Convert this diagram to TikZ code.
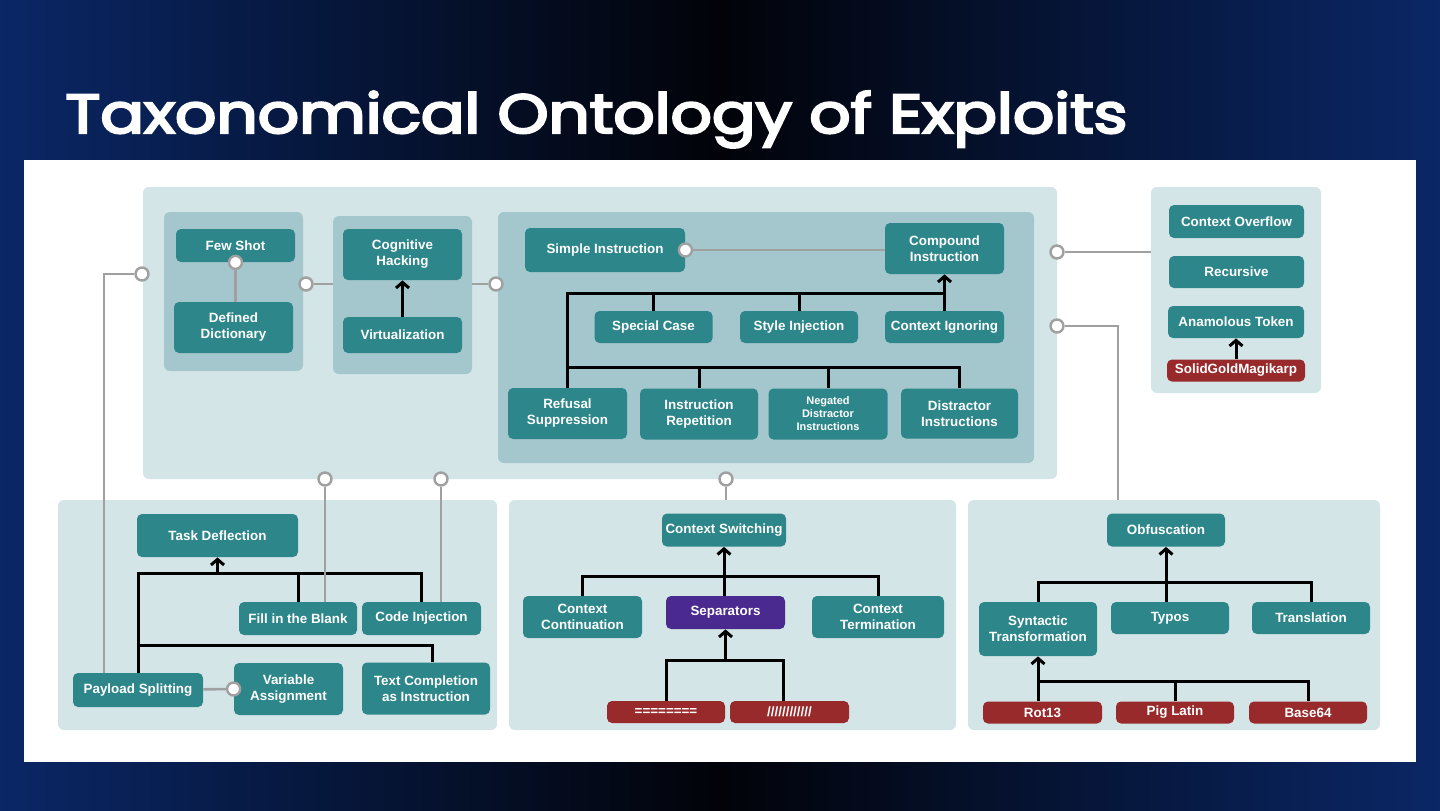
\documentclass[tikz,border=0pt]{standalone}
\usepackage{fontspec}
\setmainfont{Liberation Sans}
\newfontfamily\titlefont[FakeBold=4]{Poppins}
\usepackage{graphicx}
\usetikzlibrary{arrows.meta}

\definecolor{bgblue}{HTML}{0A2766}
\definecolor{bgdark}{HTML}{020309}
\definecolor{panelbg}{HTML}{D4E5E8}
\definecolor{subbg}{HTML}{A3C7CC}
\definecolor{boxteal}{HTML}{2D868A}
\definecolor{boxred}{HTML}{982A2B}
\definecolor{boxpurple}{HTML}{4B2A90}
\definecolor{linkgray}{HTML}{A0A0A0}

\begin{document}
\begin{tikzpicture}[x=0.5pt, y=-0.5pt,
    sz/.style 2 args={minimum width=#1*0.5pt, minimum height=#2*0.5pt},
    panel/.style={fill=panelbg, rounded corners=3pt, inner sep=0pt},
    subpanel/.style={fill=subbg, rounded corners=3pt, inner sep=0pt},
    box/.style={fill=boxteal, rounded corners=2.5pt, text=white, font=\fontsize{6.7}{8}\selectfont\bfseries, align=center, inner sep=0pt},
    redbox/.style={box, fill=boxred},
    purplebox/.style={box, fill=boxpurple},
    port/.style={circle, draw=linkgray, fill=white, line width=1.2pt, minimum size=6.5pt, inner sep=0pt},
    link/.style={draw=linkgray, line width=1.3pt},
    tree/.style={draw=black, line width=1.5pt},
    headed/.style={-{Straight Barb[length=2.8pt, width=6.5pt]}}]

    % background and sheet
    \shade[left color=bgblue, right color=bgblue, middle color=bgdark] (0,0) rectangle (1440,810);
    \fill[white] (24,160) rectangle (1416,762);
    \node[anchor=base west, inner sep=0pt, text=white] (title) at (65,133)
        {\resizebox{531pt}{21pt}{\titlefont Taxonomical Ontology of Exploits}};

    % panels
    \node[panel, sz={914}{292}] (toppanel) at (600,333) {};
    \node[subpanel, sz={139}{159}] (sub1) at (233.5,291.5) {};
    \node[subpanel, sz={139}{158}] (sub2) at (402.5,295) {};
    \node[subpanel, sz={536}{251}] (sub3) at (766,337.5) {};
    \node[panel, sz={170}{206}] (ovfpanel) at (1236,290) {};
    \node[panel, sz={439}{230}] (blpanel) at (277.5,615) {};
    \node[panel, sz={447}{230}] (bmpanel) at (732.5,615) {};
    \node[panel, sz={412}{230}] (brpanel) at (1174,615) {};

    % top group
    \node[box, sz={119}{33}] (fewshot) at (235.5,245.5) {Few Shot};
    \node[box, sz={119}{51}] (defdict) at (233.5,327.5) {Defined\\Dictionary};
    \node[box, sz={119}{51}] (coghack) at (402.5,254.5) {Cognitive\\Hacking};
    \node[box, sz={119}{36}] (virt) at (402.5,335) {Virtualization};

    \node[box, sz={160}{44}] (simple) at (605,250) {Simple Instruction};
    \node[box, sz={119}{51}] (compound) at (944.5,248.5) {Compound\\Instruction};
    \node[box, sz={118}{32}] (special) at (653.5,327) {Special Case};
    \node[box, sz={118}{32}] (style) at (799,327) {Style Injection};
    \node[box, sz={119}{32}] (ctxign) at (944.5,327) {Context Ignoring};
    \node[box, sz={119}{51}] (refusal) at (567.5,413.5) {Refusal\\Suppression};
    \node[box, sz={118}{51}] (repet) at (699,414) {Instruction\\Repetition};
    \node[box, sz={119}{51}, font=\fontsize{5.5}{6.5}\selectfont\bfseries] (negated) at (828,414) {Negated\\Distractor\\Instructions};
    \node[box, sz={117}{50}] (distract) at (959.5,413.5) {Distractor\\Instructions};

    % right group
    \node[box, sz={135}{33}] (overflow) at (1236.5,221.5) {Context Overflow};
    \node[box, sz={135}{32}] (recursive) at (1236.5,272) {Recursive};
    \node[box, sz={136}{32}] (anomtok) at (1236,322) {Anamolous Token};
    \node[redbox, sz={138}{22}] (magikarp) at (1236,370.5) {SolidGoldMagikarp};

    % bottom left group
    \node[box, sz={161}{43}] (taskdef) at (217.5,535.5) {Task Deflection};
    \node[box, sz={118}{33}] (fillblank) at (298,618.5) {Fill in the Blank};
    \node[box, sz={119}{33}] (codeinj) at (421.5,618.5) {Code Injection};
    \node[box, sz={130}{34}] (payload) at (138,690) {Payload Splitting};
    \node[box, sz={109}{52}] (varassign) at (288.5,689) {Variable\\Assignment};
    \node[box, sz={128}{52}] (textcomp) at (426,688.5) {Text Completion\\as Instruction};

    % bottom middle group
    \node[box, sz={124}{33}] (ctxswitch) at (724,530) {Context Switching};
    \node[box, sz={119}{42}] (ctxcont) at (582.5,617) {Context\\Continuation};
    \node[purplebox, sz={119}{33}] (separators) at (725.5,612.5) {Separators};
    \node[box, sz={132}{42}] (ctxterm) at (878,617) {Context\\Termination};
    \node[redbox, sz={118}{22}] (eqsep) at (666,712) {========};
    \node[redbox, sz={119}{22}] (slashsep) at (789.5,712) {////////////};

    % bottom right group
    \node[box, sz={118}{33}] (obfusc) at (1166,530) {Obfuscation};
    \node[box, sz={118}{54}] (syntactic) at (1038,629) {Syntactic\\Transformation};
    \node[box, sz={118}{32}] (typos) at (1170,618) {Typos};
    \node[box, sz={118}{32}] (translation) at (1311,618) {Translation};
    \node[redbox, sz={119}{22}] (rot13) at (1042.5,712.5) {Rot13};
    \node[redbox, sz={118}{22}] (piglatin) at (1175,712.5) {Pig Latin};
    \node[redbox, sz={118}{22}] (base64) at (1308,712.5) {Base64};

    % hierarchy lines
    \coordinate (bus1) at (0,293);
    \coordinate (bus2) at (0,367);
    \coordinate (bus3) at (0,573);
    \coordinate (bus4) at (0,645);
    \coordinate (bus5) at (0,576);
    \coordinate (bus6) at (0,660);
    \coordinate (bus7) at (0,582);
    \coordinate (bus8) at (0,681);

    \draw[tree, headed] (virt) -- (coghack);
    \draw[tree] (refusal.north) |- (ctxign.north |- bus1);
    \draw[tree] (special.north) -- (special.north |- bus1);
    \draw[tree] (style.north) -- (style.north |- bus1);
    \draw[tree, headed] (ctxign.north) -- (compound.south);
    \draw[tree] (refusal.north |- bus2) -| (distract.north);
    \draw[tree] (repet.north) -- (repet.north |- bus2);
    \draw[tree] (negated.north) -- (negated.north |- bus2);

    \draw[tree, headed] (magikarp) -- (anomtok);

    \draw[tree] (payload.north) |- (codeinj.north |- bus3) -- (codeinj.north);
    \draw[tree] (fillblank.north) -- (fillblank.north |- bus3);
    \draw[tree, headed] (taskdef.south |- bus3) -- (taskdef.south);
    \draw[tree] (payload.north |- bus4) -| ([xshift=3pt]textcomp.north);

    \draw[tree] (ctxcont.north) |- (ctxterm.north |- bus5) -- (ctxterm.north);
    \draw[tree, headed] (ctxswitch.south |- separators.north) -- (ctxswitch.south);
    \draw[tree] (eqsep.north) |- ([xshift=-3pt]slashsep.north |- bus6) -- ([xshift=-3pt]slashsep.north);
    \draw[tree, headed] (separators.south |- bus6) -- (separators.south);

    \draw[tree] (syntactic.north) |- (translation.north |- bus7) -- (translation.north);
    \draw[tree, headed] (obfusc.south |- typos.north) -- (obfusc.south);
    \draw[tree, headed] (syntactic.south |- rot13.north) -- (syntactic.south);
    \draw[tree] (syntactic.south |- bus8) -| (base64.north);
    \draw[tree] (piglatin.north) -- (piglatin.north |- bus8);

    % ports
    \node[port] (p_left) at (142,274) {};
    \node[port] (p_few) at (fewshot.south) {};
    \node[port] (p_12) at (306,284) {};
    \node[port] (p_23) at (496,284) {};
    \node[port] (p_simple) at (simple.east) {};
    \node[port] (p_ovf) at (1057,252) {};
    \node[port] (p_obf) at (1057,326) {};
    \node[port] (p_fill) at (325,479) {};
    \node[port] (p_code) at (441,479) {};
    \node[port] (p_csw) at (726,479) {};
    \node[port] (p_var) at (varassign.west) {};
    \coordinate (obfjoin) at (1118,500);

    % cross links
    \draw[link] (p_left) -| ([xshift=-17pt]payload.north);
    \draw[link] (p_few) -- (p_few |- defdict.north);
    \draw[link] (p_12) -- (p_12 -| sub2.west);
    \draw[link] (p_23) -- (p_23 -| sub2.east);
    \draw[link] (p_simple) -- (p_simple -| compound.west);
    \draw[link] (p_ovf) -- (p_ovf -| ovfpanel.west);
    \draw[link] (p_obf) -| (obfjoin);
    \draw[link] (p_fill) -- (p_fill |- fillblank.north);
    \draw[link] (p_code) -- (p_code |- codeinj.north);
    \draw[link] (p_csw) -- (p_csw |- bmpanel.north);
    \draw[link] (payload) -- (p_var);
\end{tikzpicture}
\end{document}
